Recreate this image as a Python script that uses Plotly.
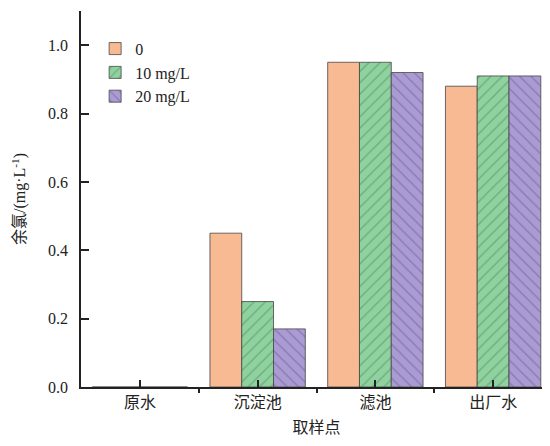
import plotly.graph_objects as go

categories = ["原水", "沉淀池", "滤池", "出厂水"]
series_names = ["0", "10 mg/L", "20 mg/L"]
vals_0 = [0.0, 0.45, 0.95, 0.88]
vals_10 = [0.0, 0.25, 0.95, 0.91]
vals_20 = [0.0, 0.17, 0.92, 0.91]
y_ticks = [0.0, 0.2, 0.4, 0.6, 0.8, 1.0]

xpos = list(range(len(categories)))
boundaries = [i + 0.5 for i in xpos[:-1]]

FONT = "Liberation Serif, Times New Roman, Noto Sans CJK SC, serif"

styles = [
    dict(color="#F7BA92", pattern=dict(shape="")),
    dict(color="#8FD29F", pattern=dict(shape="/", fgcolor="#4A8A5A", bgcolor="#8FD29F", size=8, solidity=0.18)),
    dict(color="#AA9BD2", pattern=dict(shape="\\", fgcolor="#6A5A9A", bgcolor="#AA9BD2", size=8, solidity=0.18)),
]

fig = go.Figure()
for name, vals, st in zip(series_names, [vals_0, vals_10, vals_20], styles):
    fig.add_trace(go.Bar(
        x=xpos, y=vals, name=name,
        marker=dict(color=st["color"], pattern=st["pattern"],
                    line=dict(color="rgba(70,70,70,0.8)", width=1)),
    ))

XR = [-0.5, 3.5]
fig.update_layout(
    width=550, height=446,
    margin=dict(l=73, r=6, t=3, b=67, autoexpand=False),
    paper_bgcolor="white", plot_bgcolor="white",
    barmode="group", bargap=0.19, bargroupgap=0,
    font=dict(family=FONT, size=16, color="#222"),
    showlegend=True,
    legend=dict(x=0.03, y=0.945, xanchor="left", yanchor="top",
                bgcolor="rgba(0,0,0,0)", font=dict(size=16, family=FONT),
                tracegroupgap=0, itemwidth=30),
    xaxis=dict(
        range=XR, tickmode="array", tickvals=xpos, ticktext=categories,
        layer="above traces",
        showline=True, linecolor="#222", linewidth=1.5,
        ticks="inside", ticklen=7, tickwidth=1.5, tickcolor="#222",
        minor=dict(tickmode="array", tickvals=boundaries, ticks="outside",
                   ticklen=4, tickwidth=1.5, tickcolor="#222", showgrid=False),
        showgrid=False, zeroline=False,
        tickfont=dict(size=16, family=FONT),
        title=dict(text="取样点", font=dict(size=16, family=FONT), standoff=12),
    ),
    yaxis=dict(
        range=[0, 1.1], tickmode="linear", tick0=0, dtick=0.2, tickformat=".1f",
        ticksuffix="  ",
        layer="above traces",
        showline=True, linecolor="#222", linewidth=1.5,
        ticks="inside", ticklen=8, tickwidth=1.5, tickcolor="#222",
        showgrid=False, zeroline=False,
        tickfont=dict(size=16, family=FONT),
        title=dict(text="余氯/(mg·L<sup>-1</sup>)", font=dict(size=16, family=FONT), standoff=18),
    ),
)

fig.write_html("out.html")
